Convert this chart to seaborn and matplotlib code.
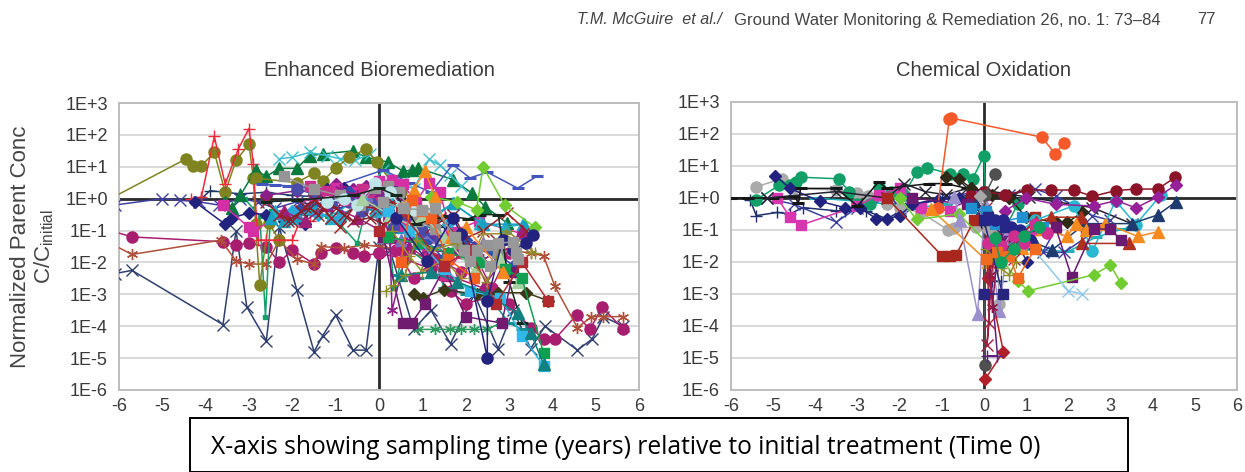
import numpy as np
import seaborn as sns
import matplotlib.pyplot as plt

# all y values are log10(C/Cinitial)
# ---- Enhanced Bioremediation ----
b_olive_x = [-6.2,-4.45,-4.3,-4.1,-3.8,-3.55,-3.3,-3.0,-2.9,-2.85,-2.75,-2.55,-2.3]
b_olive_y = [0,1.25,1.03,1.03,1.45,.2,1.2,1.7,.65,-.8,-2.7,-.75,-1.3]
b_redplus_x = [-4.35,-4.1,-3.8,-3.55,-3.25,-3,-2.9,-2.8,-2.6,-2.3,-2,-1.8,-1.6]
b_redplus_y = [0,.05,1.95,.45,1.55,2.2,1.1,-1.3,-1.3,-1.3,-1.3,-.6,-.7]
b_navyx_x = [-6.1,-5.7,-3.6,-3.3,-3.05,-2.6,-2.3,-1.9,-1.5,-1.3,-1,-.6,-.3,0,.25,.8,1.2,1.65,2.2,2.75,3.1,3.5,3.83,4.58,4.92,5.18,5.64]
b_navyx_y = [-2.35,-2.25,-3.95,-1,-3.4,-4.45,-.9,-2.85,-4.8,-4.3,-3.65,-4.75,-4.75,-1.5,-1.6,-4.1,-3.5,-4.55,-3,-4.7,-3.5,-4.7,-4,-4.75,-4.4,-3.7,-4]
b_plum_x = [-6.2,-5.7,-3.6,-3.3,-3,-2.6,-2.3,-2,-1.5,-1.35,-1,-.6,-.35,0,.6,1.2,1.65,2,2.7,3,3.5,3.8,4.06,4.56,4.87,5.15,5.64]
b_plum_y = [-1,-1.2,-1.35,-1.45,-1.4,-1.5,-2,-1.6,-2.05,-1.7,-1.55,-1.7,-1.8,-1.7,-1.9,-2.2,-2.9,-3.3,-3,-3.3,-4.05,-4.4,-4.4,-3.65,-4.1,-3.4,-4.1]
b_brown_x = [-6.2,-5.7,-3.65,-3.3,-3,-2.6,-2.3,-1.9,-1.5,-1.35,-.8,-.35,0,.5,1.2,2,2.8,3.5,3.8,4.06,4.58,4.9,5.18,5.64]
b_brown_y = [-1.4,-1.75,-1.3,-1.95,-2.05,-2.05,-1.3,-1.9,-2.05,-1.5,-1.55,-1.45,-1.5,-1.6,-1.9,-1.5,-1.6,-1.7,-1.8,-2.75,-4.05,-3.7,-3.7,-3.7]
b_bluex_x = [-6.1,-5,-4.6,-4.15,-3.7,-3.2,-2.8,-2.4,-1.9,-1.4,-.9,-.4,0,.5,1.1]
b_bluex_y = [-.2,0,-.05,-.1,-.2,0,-.1,-.3,-.1,-.2,-.3,0,-.3,-.6,-1.2]
b_navyplus_x = [-4.1,-3.9,-3.2,-2.6,-2,-1.2,-.6,0,.7,1.5]
b_navyplus_y = [0,.25,.15,.2,.1,.05,.25,.3,-.2,-.9]
b_navydia_x = [-4.25,-3.55,-3.4,-3,-2.6,-2.2,-1.7,-1.6,-1.2,-.8,-.4,0,.4,.9]
b_navydia_y = [-.1,-.8,-.6,-.45,-.5,-.7,-.8,-.25,.3,.35,-.1,.5,.4,-.5]
b_green_x = [-3.55,-3.4,-3.2,-2.85,-2.6,-2.3,-1.9,-1.6,-1.3,-.6,-.3,.2,.56,.75,.9,1.7,2.14,2.45,2.95]
b_green_y = [-.1,-.3,.1,.9,.7,.95,.95,1.35,1.4,1.5,1.3,1.15,.86,.9,.96,.6,.18,-.25,-.76]
b_cyanx_x = [-2.3,-2,-1.6,-1.2,-.9,-.55,-.2,.1,.5,.8,1.16,1.4,1.64,1.9]
b_cyanx_y = [1.25,1.3,1.45,1.35,1.25,1.2,1.4,.9,.5,.3,1.24,1.05,.75,.4]
b_olive2_x = [-2.85,-1.9,-1.5,-1.3,-1,-.7,-.3,-.05,.3,.5]
b_olive2_y = [.65,.5,.8,.55,.95,1.3,1.55,1.15,.5,.2]
b_greensm_x = [-3.1,-2.75,-2.62,-2.5,-2.1,-1.2,-.9,-.5,-.3,.2,.35,.6,1.1]
b_greensm_y = [0,-.55,-3.7,-.4,-.5,-.55,-.8,-1.4,-.3,-.6,-2.8,-1.5,-2]
b_darkx_x = [-2.6,-2.3,-2,-1.7,-1.5,-1.35,-1.1,-.9,-.55,-.1,.3,.8,1.4,1.9,2.4,2.95,3.4]
b_darkx_y = [-.1,-.5,-.7,-.25,-.05,-.2,-.6,-.9,-.2,-.3,-.1,-.35,-.6,-1.3,-1,-.45,-1]
b_darkx2_x = [-2.1,-1.8,-1.6,-1.4,-1.2,-1,-.8,-.6,-.2,.1,.6,1.2,1.7,2.2,2.7]
b_darkx2_y = [-.7,-.4,-.3,-.5,-.1,-.3,-.5,-.7,-.6,-.8,-.4,-.9,-.5,-1.7,-1.3]
b_royal_x = [-2.7,-2.4,-2.1,-1.6,-1.2,.1,.7,1.2,1.7,2.1,2.5,3.2,3.64]
b_royal_y = [.45,.43,.4,.35,.3,.9,.5,.2,1.07,.65,.83,.33,.7]
b_pink_x = [-3.6,-3,-2.9,-2.2,-1.5,-1,-.5,0,.3,.55,.85,1.15,1.4,1.66,2.3,3.3]
b_pink_y = [-.2,-.9,-1,-.5,.1,.35,.2,.55,.6,.45,-.1,.5,.2,-1.05,-.7,-1.1]
b_gray_x = [-2.2,-1.5,-.9,-.45,-.1,.2,.45,.9,1.3,1.8,2,2.2,2.5,2.75,3.1]
b_gray_y = [.7,.3,.1,-.2,.35,.4,.2,-.7,-.95,-1.4,-1.75,-1.7,-1.45,-1.7,-1.6]
b_gray2_x = [.1,.55,1,1.3,1.75,1.95,2.1,2.25,2.55,2.75,3.1,3.15,3.2]
b_gray2_y = [-.1,-.3,-.35,-.3,-1.2,-1.6,-1.95,-1.6,-2.1,-1.4,-1.35,-1.7,-1.9]
b_black_x = [-2.6,-1.9,-.6,0,.4,.85,1.56,2.06,2.33,2.75,3,3.3]
b_black_y = [-.1,-.05,.1,.33,.1,-.8,-.55,-.63,-.5,-.5,-2.6,-3.9]
b_teal_x = [-2.4,-2,-1.6,-1.1,-.6,-.1,.25,.8,1.2,1.7,2.33,2.9,3.33]
b_teal_y = [-.4,-.6,-.3,-.6,-.05,-.4,.1,-.5,-.7,-.13,-.76,-.9,-.8]
b_ltblue_x = [-1.2,-.8,-.5,-.1,.25,.5,.8,1.1]
b_ltblue_y = [-.1,0,-.2,.5,.2,-.25,-.35,-.5]
b_dia_x = [.8,1.02,1.5,2.25,2.75,3.4,3.9]
b_dia_y = [-3,-3.1,-2.85,-3,-2.95,-2.95,-3.2]
b_grnstar_x = [.9,1.3,1.64,1.9,2.2,2.5,2.8]
b_grnstar_y = [-4.1,-4.1,-4.1,-4.1,-4.1,-4.1,-3.9]
b_purple_x = [.1,.56,.75,1.06,1.5,2,2.83,3.1]
b_purple_y = [-1.2,-3.9,-3.9,-3.3,-2.2,-3.7,-3.9,-2.3]
b_navycirc_x = [.4,1.1,1.7,1.9,2.5,2.5,2.85,3.1,3.4,3.55]
b_navycirc_y = [-.6,-1.95,-.6,-1.1,-5,-3.2,-1.3,-1.6,-1.4,-1.15]
b_grnsq_x = [.2,.9,1.6,2.3,2.9,3.3,3.8]
b_grnsq_y = [-1.2,-1.4,-1.7,-2,-2.2,-2.5,-4.85]
b_cyansq_x = [.2,.7,1.5,2.1,2.8,3.3,3.8]
b_cyansq_y = [-.4,-1,-2.2,-2.9,-3.1,-4.3,-5.25]
b_tealtri_x = [.5,1.2,1.8,2.5,3.2,3.5,3.8]
b_tealtri_y = [-2.4,-2.3,-2.6,-3,-3.6,-4.2,-5.2]
b_lime_x = [1.2,1.8,2.25,2.4,2.9,3.6]
b_lime_y = [.05,-.1,-.35,1,-.2,-.9]
b_orange_x = [.5,.8,1.06,1.3,1.65,2,2.85]
b_orange_y = [-.3,.28,.86,.05,-1.2,-.9,-2.3]
b_redsq_x = [0,.5,1.5,2.1,2.7,3.3,3.9]
b_redsq_y = [-1,-.4,-2.1,-1.6,-3.3,-2,-3.2]
b_cyancir_x = [-2,-1.4,-.9,-.3,.25,.8,1.1,1.6,2.1]
b_cyancir_y = [-.4,-.5,-.6,-.05,-.2,-.4,-.45,-.8,-1.8]
b_sage_x = [-.4,.25,.75,1,1.5,2.2,2.8,3.2]
b_sage_y = [0,-.5,-.85,-.55,-1.2,-2.3,-1.9,-2.6]
b_magtri_x = [-2.2,-1.7,-1.2,-.5,.3,.7,1.6,2.4,3.3]
b_magtri_y = [-.4,-.7,-.2,-.6,-1.2,-1.5,-2.4,-2.8,-1]
b_khaki_x = [.15,.35,.6,.85,1.2,1.8,2.5,2.95,3.6]
b_khaki_y = [-2.9,-2.7,-2.4,-1.3,-1.6,-1.4,-2.6,-1,-1.7]
b_purpd_x = [-2.6,-1.9,-1.4,-1,-.6,-.3,.1,.4,.8,1.2,1.6,2.2,2.8]
b_purpd_y = [.1,.25,.2,.45,.3,.4,.3,.1,-.4,-1.2,-1.7,-1.5,-1.9]
b_bluedia_x = [-1.8,-1.2,-.7,-.2,.2,.5,.8,1.1,1.5,2,2.6,3.1,3.4]
b_bluedia_y = [-.3,-.1,.2,-.1,-.35,-.5,-.8,-1.3,-1.9,-1.3,-1.6,-2.1,-1.2]
b_magc_x = [0,.4,.8,1.3,1.5,1.9,2.3,2.6,3]
b_magc_y = [-1.7,-1.6,-2.5,-1.9,-2,-2.3,-2,-2.8,-1.7]
b_cyantri_x = [-2.5,-2.2,-1.9,-1.5,-.9,-.3,.1,.5,.9,1.3,1.7,2.4,3.35]
b_cyantri_y = [-.6,-.7,-.5,-.3,-.5,-.15,-.3,-.9,-1.4,-.5,-.15,-.8,-.8]
b_plus2_x = [.3,.7,1,1.5,1.9,2.4,2.9,3.5]
b_plus2_y = [-1,-1.8,-2.3,-1.9,-2.5,-1.1,-1.1,-1.7]
b_orsq_x = [.5,.75,1,1.2,1.6,2.2]
b_orsq_y = [-2,-.05,-.4,-.6,-1.9,-2.5]
b_purpstar_x = [-.9,-.5,0,.25,.3,.7,1.1,1.7,2.4]
b_purpstar_y = [.3,.1,.15,-1.3,-3.5,-1.3,-1.6,-1.7,-1.9]
b_tealdash_x = [.4,.9,1.2,1.5,2,2.5,3,3.3]
b_tealdash_y = [-2.4,-2.5,-1.5,-2.8,-3,-3,-3.9,-4.1]
b_navytri_x = [-.8,-.2,.1,.5,1,1.6,2.4]
b_navytri_y = [.1,-.1,-1.2,-1.3,-1.05,-1.8,-1.4]
b_slate_x = [-1.9,-1.5,-1.1,-.7,-.4,0,.35,.7,1,1.4]
b_slate_y = [.3,.15,-.15,-.1,-.4,0,-.9,-.6,-1,-1.3]
b_rose_x = [-1.6,-1.2,-.8,-.4,-.15,.2,.6,1.1,1.5,1.9]
b_rose_y = [.4,.25,-.05,.3,.2,-.55,-.85,-1.7,-2.4,-1.7]

# ---- Chemical Oxidation ----
c_orange_x = [-1.1,-.82,-.78,1.37,1.69,1.9]
c_orange_y = [-.3,2.48,2.5,1.9,1.38,1.72]
c_redsq_x = [-2.3,-1,-.8,-.66,-.23,.1,.6,1.2]
c_redsq_y = [0,-1.8,-1.8,-1.77,-.69,-.7,-1.8,-.6]
c_green_x = [-5.4,-4.85,-4.6,-4.45,-4.35,-3.45,-3.2,-3,-2.7,-2.5,-2.2,-1.9,-1.6,-1.35,-.8,-.5,-.27,0,.05,.4,.8]
c_green_y = [-.05,.4,.4,.5,.65,.6,.2,-.2,-.2,.35,.2,.1,.8,.95,.75,.75,.6,1.32,-.4,-1.2,-.2]
c_navyp_x = [-5.55,-5.4,-4.9,-4.6,-4.3,-3.5,-3.3,-2.8,-2.3,-1.7,-1,-.2,.2,.4]
c_navyp_y = [-.05,-.55,-.45,-.5,-.3,-.4,-.4,-.4,-.65,-.2,0,.1,-2.6,-2.6]
c_pink_x = [-4.9,-4.6,-4.35,-3,-2.5,-2,-1.5,-.8,-.3,.02,.1,.5,1.2]
c_pink_y = [0,-.6,-.85,-.25,.1,.3,-.3,-.4,.05,.1,-2,-1.4,-1]
c_navyd_x = [-4.95,-4.6,-3.9,-3.3,-2.95,-2.55,-2.3,-2,-1.7,-1.1,-.6,0,.5,1.03]
c_navyd_y = [.7,.3,-.1,-.3,-.3,-.65,-.65,-.55,-.2,-.05,0,-.3,-.8,-2]
c_gray_x = [-5.4,-4.8,-4.5,-3.5,-3,-2.75,-2.3,-2,-1.5,-.85,-.7,-.2,.3,.36]
c_gray_y = [.35,.6,.3,.25,.15,.05,-.2,-.3,-.45,-1,-.95,-.9,-.8,-3.3]
c_blackd_x = [-6,-5.6,-5,-4.5,-4.4,-4.35,-3.5,-3,-2.5,-2.3,-1.3,-.9,-.4,.2,.7]
c_blackd_y = [0,0,0,.05,-.15,.3,.3,-.25,.5,.3,.45,.45,.3,-1.8,-1.7]
c_bluex_x = [-5.15,-4.5,-3.5,-3,-2.2,-2,-1.7,-.9,-.2,.6,1.2,1.7,2.57,3,1.9,1.39,1.7]
c_bluex_y = [0,-.2,-.75,-.3,0,-.3,-.25,0,.2,.1,.28,.07,-.55,-.7,-1.7,-1.7,-.97]
c_darkx_x = [-5.15,-3.5,-2.3,-1.9,-1.4,-.9,-.4,.2,.7,1.07,2.57,3.5]
c_darkx_y = [0,.2,0,.45,.2,.1,.3,.2,.1,.02,-.3,-.8]
c_teal_x = [-4,-3,-2.2,-1.6,-.9,-.3,.3,1,2,2.65,3.28,3.5]
c_teal_y = [0,-.1,-.2,-.3,-.2,-.1,-.7,-1.6,-1.67,-1.23,-.97,-.9]
c_dark_x = [-.9,-.6,-.3,.2,.6,1,1.7,1.98,2.33]
c_dark_y = [.65,.6,.3,.1,0,-.6,-.76,-.76,-.45]
c_maroon_x = [-.3,0,.5,1.03,1.6,2.13,2.57,3.12,3.6,4.12,4.54]
c_maroon_y = [.05,.2,.1,.25,.25,.25,.05,.23,.28,.28,.65]
c_purpled_x = [.5,1,1.7,2.6,3.14,3.6,4.13,4.55]
c_purpled_y = [-.4,0,-.2,-.25,-.08,-.31,.04,.41]
c_navyt_x = [-.2,.6,1.2,1.62,2.4,3.5,4.12,4.56]
c_navyt_y = [-.2,-.9,-1.4,-1.62,-.8,-.8,-.53,-.11]
c_orangt_x = [-1.25,.1,.9,1.43,1.98,2.17,2.43,2.88,3.65,4.13]
c_orangt_y = [-.35,-2,-1.55,-.97,-1.2,-.8,-1,-.8,-1.2,-1.05]
c_redt_x = [.4,1.23,1.6,2.29,2.33,3.43]
c_redt_y = [-1.6,-.76,-.6,-.6,-1.42,-1.42]
c_purples_x = [-1.7,-.4,.5,1.7,2.08,2.6,3,3.24]
c_purples_y = [0,-.2,-1.2,-.92,-2.48,-.97,-.97,-1.3]
c_lime_x = [-2,-1.6,-.6,.3,.81,1.05,2.6,3,3.25]
c_lime_y = [0,-.67,-.5,-1.7,-2.6,-2.9,-2.4,-2.1,-2.67]
c_ltbluex_x = [.3,1.07,2,2.33]
c_ltbluex_y = [-.9,-1.44,-2.9,-3]
c_cyan_x = [.6,1.2,2.13,2.57,3.12,3.6,4.2]
c_cyan_y = [-1.3,-.7,-.24,-1.67,-.08,-.83,.1]
c_lav_x = [-.7,-.58,-.15,.02,.36,.6]
c_lav_y = [.02,-.7,-3.62,-.2,-3.54,-1]
c_spikeg_x = [.27,.02,.02]
c_spikeg_y = [.75,.1,-5.22]
c_spiker_x = [.03,.46,.1,.2]
c_spiker_y = [-5.66,-4.8,-2.5,-1.4]
c_plus_x = [.08,.32,.1,.3,.6]
c_plus_y = [-4.93,-4.93,-1.5,-2,-1.2]
c_brx_x = [.05,.12,.07,.2,.3,.7,.9]
c_brx_y = [-.3,-3.9,-4.6,-2.1,-1.2,-1.9,-1.2]
c_navys_x = [0,.44,0,.1,.5,.9]
c_navys_y = [-3,-3,-.7,-.6,-.9,-1.2]
c_magc_x = [.1,.4,.7,.95,1.2,1.5]
c_magc_y = [-1.4,-1.5,-1.2,-1.4,-.8,-1.1]
c_orsq_x = [.05,.3,.6,.8,1.2]
c_orsq_y = [-1.9,-1.7,-1.8,-2.5,-1.6]
c_blusq_x = [-.3,.05,.25,.9,1.4]
c_blusq_y = [-.3,-.4,-.8,-.6,-.9]
c_grnc_x = [.25,.4,.7,.95,1.3]
c_grnc_y = [-1.25,-2,-1.6,-1.2,-.9]
c_navyc_x = [.1,.25,.45,.65,.85,1.1]
c_navyc_y = [-.65,-.7,-.7,-.9,-1,-1.3]
c_olivep_x = [.05,.2,.4,.6,.75]
c_olivep_y = [-1.6,-1.8,-2.2,-2.4,-2]
c_greyo_x = [-.1,.1,.35,.7,.95]
c_greyo_y = [.05,-1,-1.7,-1,-1.3]
c_wine_x = [.1,.15,.2,.3,.5,.8]
c_wine_y = [-.5,-2.4,-3.4,-2,-1.6,-1.3]

bio_lines = [
    (b_navyplus_x,b_navyplus_y,'#1F3864','+'),(b_bluex_x,b_bluex_y,'#3F3F9F','x'),
    (b_navyx_x,b_navyx_y,'#2F3F6F','x'),(b_plum_x,b_plum_y,'#A81E6E','o'),(b_brown_x,b_brown_y,'#B0503A','*'),
    (b_greensm_x,b_greensm_y,'#12A068','s_small'),(b_olive_x,b_olive_y,'#7F8420','o'),(b_redplus_x,b_redplus_y,'#F0283C','+'),
    (b_green_x,b_green_y,'#0B7A3E','^'),(b_cyanx_x,b_cyanx_y,'#3FC0CC','x'),(b_olive2_x,b_olive2_y,'#7F8420','o'),
    (b_royal_x,b_royal_y,'#4455BB','_'),(b_navydia_x,b_navydia_y,'#22227F','D'),(b_purpd_x,b_purpd_y,'#8A1F8A','D'),
    (b_pink_x,b_pink_y,'#D42FA5','s'),(b_tealdash_x,b_tealdash_y,'#158C90','_'),(b_magc_x,b_magc_y,'#B02078','o'),
    (b_teal_x,b_teal_y,'#20B0C8','^'),(b_cyantri_x,b_cyantri_y,'#18A0C0','^'),(b_bluedia_x,b_bluedia_y,'#2A50B0','D'),
    (b_cyancir_x,b_cyancir_y,'#2AA8D8','D'),(b_magtri_x,b_magtri_y,'#A01F78','^'),(b_navytri_x,b_navytri_y,'#7A70C0','^'),
    (b_slate_x,b_slate_y,'#4A4AA8','o'),(b_rose_x,b_rose_y,'#C8308C','s'),
    (b_darkx_x,b_darkx_y,'#9A2025','x'),(b_darkx2_x,b_darkx2_y,'#8A1E2A','x'),(b_purpstar_x,b_purpstar_y,'#901E88','*'),
    (b_gray_x,b_gray_y,'#959595','s'),(b_ltblue_x,b_ltblue_y,'#BFE4E8','o'),(b_plus2_x,b_plus2_y,'#A09030','+'),
    (b_sage_x,b_sage_y,'#A8D0A0','^'),(b_black_x,b_black_y,'#15281E','_'),(b_dia_x,b_dia_y,'#3A3A18','D'),
    (b_grnstar_x,b_grnstar_y,'#2E9A60','*'),(b_purple_x,b_purple_y,'#701A70','s'),(b_grnsq_x,b_grnsq_y,'#10A050','s'),
    (b_cyansq_x,b_cyansq_y,'#30B8E8','s'),(b_tealtri_x,b_tealtri_y,'#108080','^'),(b_lime_x,b_lime_y,'#70CC30','D'),
    (b_orange_x,b_orange_y,'#F58A1F','^'),(b_orsq_x,b_orsq_y,'#F4601E','s'),(b_redsq_x,b_redsq_y,'#B02A30','s'),
    (b_khaki_x,b_khaki_y,'#8C8C28','+'),(b_navycirc_x,b_navycirc_y,'#23237F','o'),(b_gray2_x,b_gray2_y,'#999999','s'),
]
chem_lines = [
    (c_teal_x,c_teal_y,'#20B0B8','_'),(c_navyp_x,c_navyp_y,'#20306A','+'),(c_bluex_x,c_bluex_y,'#3A3FA0','x'),
    (c_gray_x,c_gray_y,'#AAAAAA','o'),(c_green_x,c_green_y,'#12A068','o'),(c_pink_x,c_pink_y,'#D835B0','s'),
    (c_navyd_x,c_navyd_y,'#22227F','D'),(c_blackd_x,c_blackd_y,'#151515','_'),(c_darkx_x,c_darkx_y,'#222233','x'),
    (c_orange_x,c_orange_y,'#F4592A','o'),(c_redsq_x,c_redsq_y,'#A8281E','s'),(c_dark_x,c_dark_y,'#2D2A18','D'),
    (c_cyan_x,c_cyan_y,'#28B8D0','o'),(c_maroon_x,c_maroon_y,'#8C1428','o'),(c_purpled_x,c_purpled_y,'#95209A','D'),
    (c_navyt_x,c_navyt_y,'#1F3A6E','^'),(c_redt_x,c_redt_y,'#B03020','^'),(c_orangt_x,c_orangt_y,'#F58A1F','^'),
    (c_purples_x,c_purples_y,'#6A1A70','s'),(c_lime_x,c_lime_y,'#70CC30','D'),(c_ltbluex_x,c_ltbluex_y,'#90C8EC','x'),
    (c_lav_x,c_lav_y,'#9C90CC','^'),(c_spikeg_x,c_spikeg_y,'#505050','o'),(c_spiker_x,c_spiker_y,'#B02028','D'),
    (c_plus_x,c_plus_y,'#5A2080','+'),(c_wine_x,c_wine_y,'#8A1A4A','*'),(c_brx_x,c_brx_y,'#A02040','x'),
    (c_olivep_x,c_olivep_y,'#8C8C28','+'),(c_greyo_x,c_greyo_y,'#A8A8A8','D'),(c_blusq_x,c_blusq_y,'#2090D0','s'),
    (c_navys_x,c_navys_y,'#26267F','s'),(c_navyc_x,c_navyc_y,'#26268A','o'),(c_magc_x,c_magc_y,'#D02E90','o'),
    (c_orsq_x,c_orsq_y,'#F06A20','s'),(c_grnc_x,c_grnc_y,'#10A060','o'),
]
x_ticks = [-6,-5,-4,-3,-2,-1,0,1,2,3,4,5,6]
x_labels = ['-6','-5','-4','-3','-2','-1','0','1','2','3','4','5','6']
y_exps = [3,2,1,0,-1,-2,-3,-4,-5,-6]
y_labels = ['1E+3','1E+2','1E+1','1E+0','1E-1','1E-2','1E-3','1E-4','1E-5','1E-6']

sns.set_style("white")
plt.rcParams['font.family'] = ['Liberation Sans', 'DejaVu Sans']
plt.rcParams['mathtext.default'] = 'regular'
W, H = 1245, 472
fig = plt.figure(figsize=(W/100, H/100), dpi=100)

def panel(box, lines, title, title_y):
    l, t, r, b = box
    ax = fig.add_axes([l/W, 1-b/H, (r-l)/W, (b-t)/H])
    for xs, ys, col, mk in lines:
        size = {'o':8,'s':7.5,'^':8,'D':6.5,'x':8,'+':8,'*':8,'_':9,'s_small':3}[mk]
        m = {'*':(6,2,0),'s_small':'s'}.get(mk, mk)
        sns.lineplot(x=xs, y=np.power(10.0, ys), ax=ax, color=col, marker=m, markersize=size,
                     markeredgecolor=col, markeredgewidth=2.2 if mk=='_' else 1.0,
                     linewidth=1.1, estimator=None, sort=False, errorbar=None, zorder=3)
    ax.set_yscale('log')
    ax.set_xlim(-6, 6)
    ax.set_ylim(1e-6, 1e3)
    ax.axhline(1, color='#2A2A2A', lw=2, zorder=2)
    ax.axvline(0, color='#2A2A2A', lw=2, zorder=2)
    ax.set_xticks(x_ticks)
    ax.set_xticklabels(x_labels)
    ax.set_yticks([10.0**e for e in y_exps])
    ax.set_yticklabels(y_labels)
    ax.minorticks_off()
    ax.tick_params(length=0, labelsize=13, labelcolor='#3A3A3A')
    ax.tick_params(axis='y', pad=8)
    ax.tick_params(axis='x', pad=6)
    ax.grid(axis='y', color='#D9D9D9', lw=1.4)
    ax.grid(axis='x', visible=False)
    ax.set_axisbelow(True)
    for s in ax.spines.values():
        s.set_visible(True)
        s.set_color('#BDBDBD')
        s.set_linewidth(1.4)
    ax.set_xlabel('')
    ax.set_ylabel('')
    fig.text((l+r)/2/W, 1-title_y/H, title, ha='center', va='center', fontsize=14.5, color='#3A3A3A')
    return ax

panel((119, 103, 639, 390), bio_lines, 'Enhanced Bioremediation', 71)
panel((731, 102, 1237, 390), chem_lines, 'Chemical Oxidation', 70)

fig.text(21/W, 1-247/H, 'Normalized Parent Conc', rotation=90, ha='center', va='center', fontsize=16, color='#444444')
fig.text(44/W, 1-247/H, 'C/C$_{initial}$', rotation=90, ha='center', va='center', fontsize=16, color='#444444')

fig.text(577/W, 1-20/H, 'T.M. McGuire  et al./', ha='left', va='center', fontsize=11.6, style='italic', color='#444444')
fig.text(734/W, 1-20/H, 'Ground Water Monitoring & Remediation 26, no. 1: 73\u201384', ha='left', va='center', fontsize=12, color='#444444')
fig.text(1197/W, 1-20/H, '77', ha='left', va='center', fontsize=12, color='#444444')

fig.patches.append(plt.Rectangle((190/W, 0), 938/W, 54/H, transform=fig.transFigure, fc='white', ec='black', lw=1.4, clip_on=False))
fig.text(211/W, 1-447/H, 'X-axis showing sampling time (years) relative to initial treatment (Time 0)',
         ha='left', va='center', fontsize=17.7, color='black', family=['Open Sans', 'DejaVu Sans'])

fig.savefig('out.png', dpi=100)
